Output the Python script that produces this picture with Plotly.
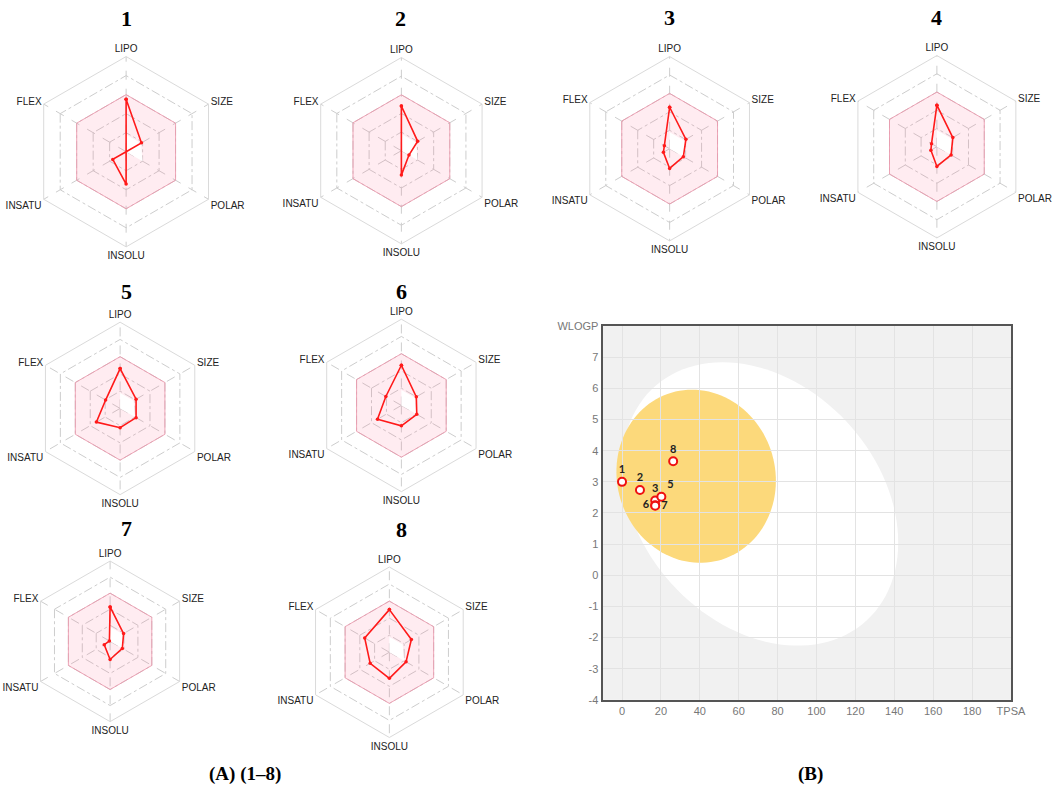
import numpy as np
import plotly.graph_objects as go

W, H = 1052, 793          # target picture size, used for placing everything
FIG_W, FIG_H = 1068, 798  # page size handed to plotly

# --- bioavailability radar data (ring units, outer ring = 5) ---
radar_axes = ["LIPO", "SIZE", "POLAR", "INSOLU", "INSATU", "FLEX"]
compound_names = ["1", "2", "3", "4", "5", "6", "7", "8"]
radar_1 = [2.76, 0.93, 0.00, 1.70, 0.81, 0.00]
radar_2 = [2.40, 1.01, 0.47, 1.31, 0.00, 0.00]
radar_3 = [2.25, 1.02, 0.86, 1.07, 0.39, 0.33]
radar_4 = [2.28, 1.01, 0.90, 1.08, 0.38, 0.34]
radar_5 = [2.31, 1.07, 1.07, 1.12, 1.59, 0.97]
radar_6 = [2.33, 1.00, 1.03, 1.18, 1.60, 1.04]
radar_7 = [2.14, 0.97, 0.88, 1.13, 0.42, 0.05]
radar_8 = [2.50, 1.49, 1.13, 1.53, 1.30, 1.67]
optimal_upper = [3, 3, 3, 3, 3, 3]
optimal_lower = [0.9, 0.9, 1.0, 0, 0, 0]

# --- BOILED-Egg data ---
egg_labels = ["1", "2", "3", "5", "6", "7", "8"]
egg_tpsa = [0.0, 9.23, 17.07, 20.23, 17.07, 17.07, 26.30]
egg_wlogp = [3.00, 2.74, 2.40, 2.52, 2.25, 2.23, 3.66]
tpsa_ticks = [0, 20, 40, 60, 80, 100, 120, 140, 160, 180, 200]
tpsa_ticktext = ["0", "20", "40", "60", "80", "100", "120", "140", "160", "180", "TPSA"]
wlogp_ticks = [-4, -3, -2, -1, 0, 1, 2, 3, 4, 5, 6, 7, 8]
wlogp_ticktext = ["-4", "-3", "-2", "-1", "0", "1", "2", "3", "4", "5", "6", "7", "WLOGP"]

radars = [radar_1, radar_2, radar_3, radar_4, radar_5, radar_6, radar_7, radar_8]

# pixel centre and radius of each radar, and title position
radar_place = [
    (126, 147, 96), (401, 146, 94), (669, 144, 93), (936, 142, 92),
    (120, 406, 87), (401, 403, 87), (110, 641, 81), (389, 652, 86),
]
title_place = [(126, 13), (400, 13), (669, 12), (936, 12),
               (126, 288), (401, 288), (126, 527), (401, 528)]

fig = go.Figure()


def closed(vals):
    return list(vals) + [vals[0]]


theta = closed(radar_axes)
grid_col = "#cdcdcd"

for i, vals in enumerate(radars):
    sub = "polar" if i == 0 else f"polar{i + 1}"
    fig.add_trace(go.Scatterpolar(
        r=closed(optimal_upper), theta=theta, subplot=sub, mode="lines",
        fill="toself", fillcolor="rgba(255,110,150,0.13)",
        line=dict(color="rgba(235,150,172,0.85)", width=1),
        hoverinfo="skip", showlegend=False))
    fig.add_trace(go.Scatterpolar(
        r=closed(optimal_lower), theta=theta, subplot=sub, mode="lines",
        fill="toself", fillcolor="white", line=dict(width=0),
        hoverinfo="skip", showlegend=False))
    fig.add_trace(go.Scatterpolar(
        r=closed(vals), theta=theta, subplot=sub, mode="lines+markers",
        line=dict(color="#ff1a1a", width=1.6),
        marker=dict(color="#ff1a1a", size=3.5),
        name=compound_names[i], showlegend=False))

    cx, cy, R = radar_place[i]
    fig.layout[sub] = dict(
        domain=dict(x=[(cx - R) / W, (cx + R) / W],
                    y=[1 - (cy + R) / H, 1 - (cy - R) / H]),
        bgcolor="white",
        gridshape="linear",
        radialaxis=dict(range=[0, 5], tickvals=[1, 2, 3, 4],
                        showticklabels=False, ticks="", showline=False,
                        gridcolor=grid_col, griddash="dashdot", gridwidth=1),
        angularaxis=dict(direction="clockwise", rotation=90,
                         categoryorder="array", categoryarray=radar_axes,
                         gridcolor=grid_col, griddash="dash",
                         showline=True, linecolor="#dadada", linewidth=1,
                         ticks="",
                         tickfont=dict(family="Liberation Sans, Arial", size=10,
                                       color="#222")),
    )

    tx, ty = title_place[i]
    fig.add_annotation(
        x=tx / W, y=1 - ty / H, xref="paper", yref="paper",
        xanchor="center", yanchor="middle",
        text=compound_names[i], showarrow=False,
        font=dict(family="Liberation Serif, Times New Roman", size=22,
                  color="black", weight="bold"))

# --- BOILED-Egg panel ---
egg_pos = ["top center", "top center", "top center", "top right",
           "middle left", "middle right", "top center"]
fig.add_trace(go.Scatter(
    x=egg_tpsa, y=egg_wlogp, mode="markers+text", text=egg_labels,
    textposition=egg_pos,
    textfont=dict(family="Lato, Liberation Sans", size=11, color="#222",
                  weight="bold"),
    marker=dict(size=8, color="white", line=dict(color="#ee1111", width=2)),
    showlegend=False, xaxis="x", yaxis="y"))


def ellipse_path(c, u, v, n=120):
    t = np.linspace(0, 2 * np.pi, n)
    xs = c[0] + u[0] * np.cos(t) + v[0] * np.sin(t)
    ys = c[1] + u[1] * np.cos(t) + v[1] * np.sin(t)
    pts = [f"{x:.3f},{y:.3f}" for x, y in zip(xs, ys)]
    return "M" + " L".join(pts) + " Z"


# white (HIA) and yolk (BBB) regions: centre and conjugate half-axes
fig.add_shape(type="path", path=ellipse_path((71.05, 2.29), (-19.3, 4.55), (68.3, 0.0)),
              xref="x", yref="y", fillcolor="white", line=dict(width=0), layer="below")
fig.add_shape(type="path", path=ellipse_path((38.12, 3.18), (-2.12, 2.78), (40.95, 0.0)),
              xref="x", yref="y", fillcolor="#fcd97b", line=dict(width=0), layer="below")

axis_common = dict(showline=True, mirror=True, linecolor="#555", linewidth=2,
                   gridcolor="#e3e3e3", gridwidth=1, zeroline=False, ticks="",
                   tickfont=dict(family="Liberation Sans, Arial", size=11, color="#777"))
fig.update_layout(
    xaxis=dict(domain=[602 / W, 1010 / W], range=[-10, 200], tickvals=tpsa_ticks,
               ticktext=tpsa_ticktext, anchor="y", **axis_common),
    yaxis=dict(domain=[1 - 700 / H, 1 - 323 / H], range=[-4, 8], tickvals=wlogp_ticks,
               ticktext=wlogp_ticktext, anchor="x", **axis_common),
)

# panel captions
for txt, px in [("(A) (1–8)", 245), ("(B)", 810)]:
    fig.add_annotation(x=px / W, y=1 - 775 / H, xref="paper", yref="paper",
                       xanchor="center", yanchor="middle",
                       text=txt, showarrow=False,
                       font=dict(family="Liberation Serif, Times New Roman", size=19,
                                 color="black", weight="bold"))

fig.update_layout(width=FIG_W, height=FIG_H, margin=dict(l=0, r=0, t=0, b=0),
                  paper_bgcolor="white", plot_bgcolor="#f1f1f1", showlegend=False)

fig.write_html("out.html", config={"displayModeBar": False},
               post_script="document.body.style.margin='0px';"
                           "document.body.style.overflow='hidden';")
